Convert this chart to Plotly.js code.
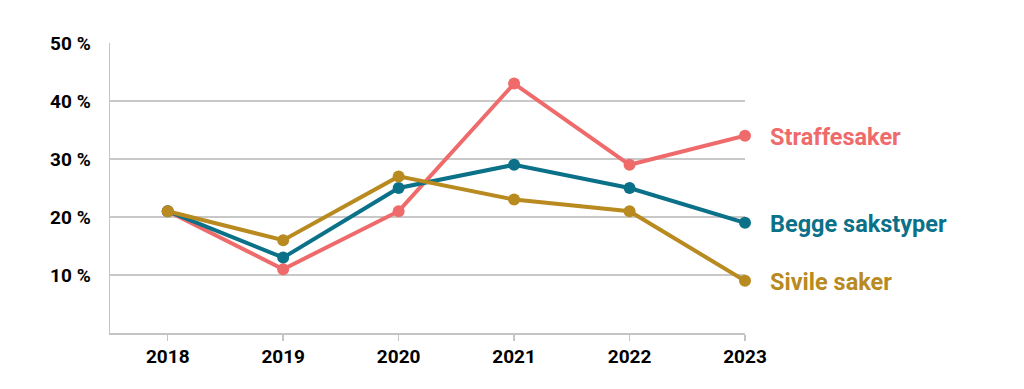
<!DOCTYPE html>
<html><head><meta charset="utf-8">
<script src="https://cdn.plot.ly/plotly-3.0.1.min.js"></script>
<style>body{margin:0;background:#fff}#c{width:1024px;height:389px}</style>
</head><body><div id="c"></div>
<script>
const years = [2018, 2019, 2020, 2021, 2022, 2023];
const straffesaker = [21, 11, 21, 43, 29, 34];
const begge = [21, 13, 25, 29, 25, 19];
const sivile = [21, 16, 27, 23, 21, 9];
const seriesNames = ["Straffesaker", "Begge sakstyper", "Sivile saker"];
const colors = ["#ef6b6b", "#0b7189", "#b88a1f"];
const yTicks = [10, 20, 30, 40, 50];
const yTickText = ["10 %", "20 %", "30 %", "40 %", "50 %"];

const all = [straffesaker, begge, sivile];
const traces = all.map((v, i) => ({
  x: years, y: v, type: "scatter", mode: "lines+markers", name: seriesNames[i],
  line: {color: colors[i], width: 4},
  marker: {color: colors[i], size: 12},
  cliponaxis: false, hoverinfo: "skip"
}));
const annotations = all.map((v, i) => ({
  x: years[years.length - 1], y: v[v.length - 1], xref: "x", yref: "y",
  text: seriesNames[i], showarrow: false, xanchor: "left", yanchor: "middle",
  xshift: 23, yshift: -1, font: {family: "Roboto", size: 23.5, color: colors[i], weight: 700}
}));
Plotly.newPlot("c", traces, {
  width: 1024, height: 389,
  margin: {l: 110, r: 279, t: 43, b: 56},
  paper_bgcolor: "#fff", plot_bgcolor: "#fff",
  showlegend: false,
  font: {family: "Roboto", size: 19, color: "#000", weight: 700},
  xaxis: {
    range: [2017.5, 2023], tickvals: years, ticktext: years.map(String),
    showgrid: false, zeroline: false, showline: true, linecolor: "#c4c4c4", linewidth: 1.5,
    ticks: "outside", ticklen: 6, tickcolor: "#c4c4c4", tickwidth: 1.5,
    tickfont: {family: "Roboto", size: 19, color: "#000", weight: 700}
  },
  yaxis: {
    range: [0, 50], tickvals: yTicks, ticktext: yTickText,
    showgrid: true, gridcolor: "#c8c8c8", gridwidth: 1.5, zeroline: false,
    showline: true, linecolor: "#c4c4c4", linewidth: 1.5, ticks: "", ticklabelstandoff: 14,
    tickfont: {family: "Roboto", size: 19, color: "#000", weight: 700}
  },
  annotations: annotations
}, {staticPlot: true});
</script></body></html>
